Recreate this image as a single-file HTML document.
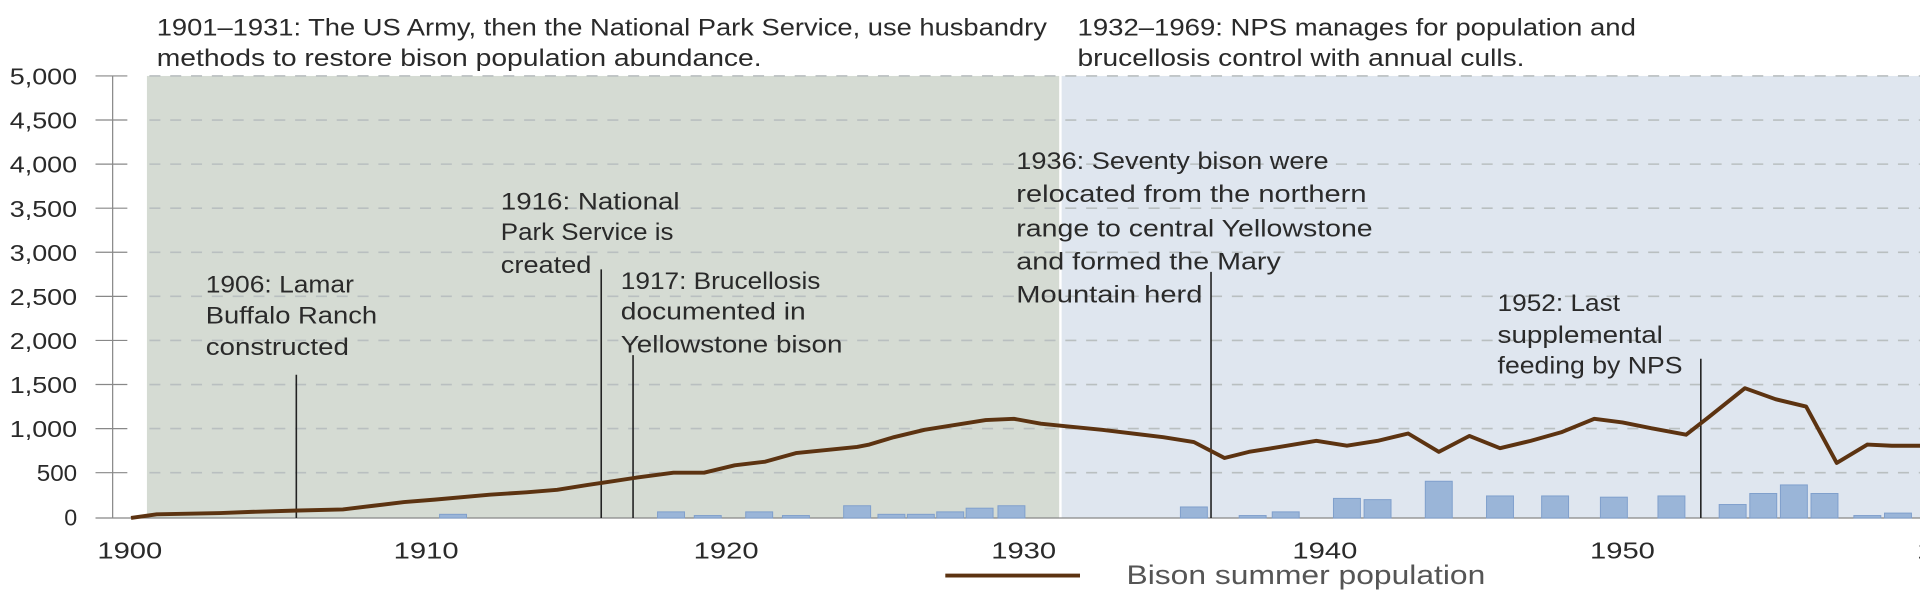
<!DOCTYPE html>
<html><head><meta charset="utf-8"><style>
html,body{margin:0;padding:0;background:#fff;}
svg{display:block;}
text{font-family:"Liberation Sans",sans-serif;fill:#2a2a2a;}
</style></head><body>
<svg width="1920" height="597" viewBox="0 0 1568 487.5" xmlns="http://www.w3.org/2000/svg">
<rect x="120" y="62" width="745" height="361" fill="#d5dbd3"/>
<rect x="867" y="62" width="701" height="361" fill="#dfe6ef"/>
<g stroke="#b9bfc0" stroke-width="1.3" stroke-dasharray="9,8">
<line x1="122" y1="62" x2="1568" y2="62"/><line x1="122" y1="98" x2="1568" y2="98"/>
<line x1="122" y1="134" x2="1568" y2="134"/><line x1="122" y1="170" x2="1568" y2="170"/>
<line x1="122" y1="206" x2="1568" y2="206"/><line x1="122" y1="242" x2="1568" y2="242"/>
<line x1="122" y1="278" x2="1568" y2="278"/><line x1="122" y1="314" x2="1568" y2="314"/>
<line x1="122" y1="350" x2="1568" y2="350"/><line x1="122" y1="386" x2="1568" y2="386"/>
</g>
<g stroke="#888" stroke-width="1">
<line x1="92" y1="62" x2="92" y2="423"/>
<line x1="78" y1="62" x2="104" y2="62"/><line x1="78" y1="98" x2="104" y2="98"/>
<line x1="78" y1="134" x2="104" y2="134"/><line x1="78" y1="170" x2="104" y2="170"/>
<line x1="78" y1="206" x2="104" y2="206"/><line x1="78" y1="242" x2="104" y2="242"/>
<line x1="78" y1="278" x2="104" y2="278"/><line x1="78" y1="314" x2="104" y2="314"/>
<line x1="78" y1="350" x2="104" y2="350"/><line x1="78" y1="386" x2="104" y2="386"/>
<line x1="78" y1="423" x2="1568" y2="423"/>
</g>
<g font-size="19" text-anchor="end">
<text x="63" y="69" textLength="55" lengthAdjust="spacingAndGlyphs">5,000</text>
<text x="63" y="105" textLength="55" lengthAdjust="spacingAndGlyphs">4,500</text>
<text x="63" y="141" textLength="55" lengthAdjust="spacingAndGlyphs">4,000</text>
<text x="63" y="177" textLength="55" lengthAdjust="spacingAndGlyphs">3,500</text>
<text x="63" y="213" textLength="55" lengthAdjust="spacingAndGlyphs">3,000</text>
<text x="63" y="249" textLength="55" lengthAdjust="spacingAndGlyphs">2,500</text>
<text x="63" y="285" textLength="55" lengthAdjust="spacingAndGlyphs">2,000</text>
<text x="63" y="321" textLength="55" lengthAdjust="spacingAndGlyphs">1,500</text>
<text x="63" y="357" textLength="55" lengthAdjust="spacingAndGlyphs">1,000</text>
<text x="63" y="393" textLength="33" lengthAdjust="spacingAndGlyphs">500</text>
<text x="63" y="429">0</text>
</g>
<g font-size="19" text-anchor="middle">
<text x="106" y="456" textLength="53" lengthAdjust="spacingAndGlyphs">1900</text>
<text x="348" y="456" textLength="53" lengthAdjust="spacingAndGlyphs">1910</text>
<text x="593" y="456" textLength="53" lengthAdjust="spacingAndGlyphs">1920</text>
<text x="836" y="456" textLength="53" lengthAdjust="spacingAndGlyphs">1930</text>
<text x="1082" y="456" textLength="53" lengthAdjust="spacingAndGlyphs">1940</text>
<text x="1325" y="456" textLength="53" lengthAdjust="spacingAndGlyphs">1950</text>
<text x="1592" y="456" textLength="53" lengthAdjust="spacingAndGlyphs">1960</text>
</g>
<g fill="#9ab5d8" stroke="#7f9fcc" stroke-width="0.8">
<rect x="359" y="420" width="22" height="3"/><rect x="537" y="418" width="22" height="5"/>
<rect x="567" y="421" width="22" height="2"/><rect x="609" y="418" width="22" height="5"/>
<rect x="639" y="421" width="22" height="2"/><rect x="689" y="413" width="22" height="10"/>
<rect x="717" y="420" width="22" height="3"/><rect x="741" y="420" width="22" height="3"/>
<rect x="765" y="418" width="22" height="5"/><rect x="789" y="415" width="22" height="8"/>
<rect x="815" y="413" width="22" height="10"/><rect x="964" y="414" width="22" height="9"/>
<rect x="1012" y="421" width="22" height="2"/><rect x="1039" y="418" width="22" height="5"/>
<rect x="1089" y="407" width="22" height="16"/><rect x="1114" y="408" width="22" height="15"/>
<rect x="1164" y="393" width="22" height="30"/><rect x="1214" y="405" width="22" height="18"/>
<rect x="1259" y="405" width="22" height="18"/><rect x="1307" y="406" width="22" height="17"/>
<rect x="1354" y="405" width="22" height="18"/><rect x="1404" y="412" width="22" height="11"/>
<rect x="1429" y="403" width="22" height="20"/><rect x="1454" y="396" width="22" height="27"/>
<rect x="1479" y="403" width="22" height="20"/><rect x="1514" y="421" width="22" height="2"/>
<rect x="1539" y="419" width="22" height="4"/>
</g>
<g stroke="#222" stroke-width="1.3">
<line x1="242" y1="306" x2="242" y2="423"/><line x1="491" y1="220" x2="491" y2="423"/>
<line x1="517" y1="290" x2="517" y2="423"/><line x1="989" y1="222" x2="989" y2="423"/>
<line x1="1389" y1="293" x2="1389" y2="423"/>
</g>
<polyline fill="none" stroke="#5c3311" stroke-width="3.2" stroke-linejoin="round" points="107,423 128,420 180,419 205,418 240,417 280,416 305,413 330,410 355,408 400,404 430,402 455,400 480,396 500,393 520,390 550,386 575,386 600,380 625,377 650,370 700,365 710,363 730,357 755,351 780,347 805,343 828,342 850,346 870,348 900,351 950,357 975,361 1000,374 1020,369 1045,365 1075,360 1100,364 1125,360 1150,354 1175,369 1200,356 1225,366 1250,360 1275,353 1302,342 1325,345 1350,350 1377,355 1395,341 1425,317 1450,326 1475,332 1500,378 1525,363 1545,364 1568,364"/>
<g font-size="20">
<text x="128" y="29" textLength="727" lengthAdjust="spacingAndGlyphs">1901–1931: The US Army, then the National Park Service, use husbandry</text>
<text x="128" y="54" textLength="494" lengthAdjust="spacingAndGlyphs">methods to restore bison population abundance.</text>
<text x="880" y="29" textLength="456" lengthAdjust="spacingAndGlyphs">1932–1969: NPS manages for population and</text>
<text x="880" y="54" textLength="365" lengthAdjust="spacingAndGlyphs">brucellosis control with annual culls.</text>
<text x="168" y="239" textLength="121" lengthAdjust="spacingAndGlyphs">1906: Lamar</text>
<text x="168" y="264" textLength="140" lengthAdjust="spacingAndGlyphs">Buffalo Ranch</text>
<text x="168" y="290" textLength="117" lengthAdjust="spacingAndGlyphs">constructed</text>
<text x="409" y="171" textLength="146" lengthAdjust="spacingAndGlyphs">1916: National</text>
<text x="409" y="196" textLength="141" lengthAdjust="spacingAndGlyphs">Park Service is</text>
<text x="409" y="223" textLength="74" lengthAdjust="spacingAndGlyphs">created</text>
<text x="507" y="236" textLength="163" lengthAdjust="spacingAndGlyphs">1917: Brucellosis</text>
<text x="507" y="261" textLength="151" lengthAdjust="spacingAndGlyphs">documented in</text>
<text x="507" y="288" textLength="181" lengthAdjust="spacingAndGlyphs">Yellowstone bison</text>
<text x="830" y="138" textLength="255" lengthAdjust="spacingAndGlyphs">1936: Seventy bison were</text>
<text x="830" y="165" textLength="286" lengthAdjust="spacingAndGlyphs">relocated from the northern</text>
<text x="830" y="193" textLength="291" lengthAdjust="spacingAndGlyphs">range to central Yellowstone</text>
<text x="830" y="220" textLength="216" lengthAdjust="spacingAndGlyphs">and formed the Mary</text>
<text x="830" y="247" textLength="152" lengthAdjust="spacingAndGlyphs">Mountain herd</text>
<text x="1223" y="254" textLength="100" lengthAdjust="spacingAndGlyphs">1952: Last</text>
<text x="1223" y="280" textLength="135" lengthAdjust="spacingAndGlyphs">supplemental</text>
<text x="1223" y="305" textLength="151" lengthAdjust="spacingAndGlyphs">feeding by NPS</text>
</g>
<line x1="772" y1="470" x2="882" y2="470" stroke="#5c3311" stroke-width="3.2"/>
<text x="920" y="477" font-size="22" textLength="293" lengthAdjust="spacingAndGlyphs" style="fill:#555">Bison summer population</text>
</svg>
</body></html>
